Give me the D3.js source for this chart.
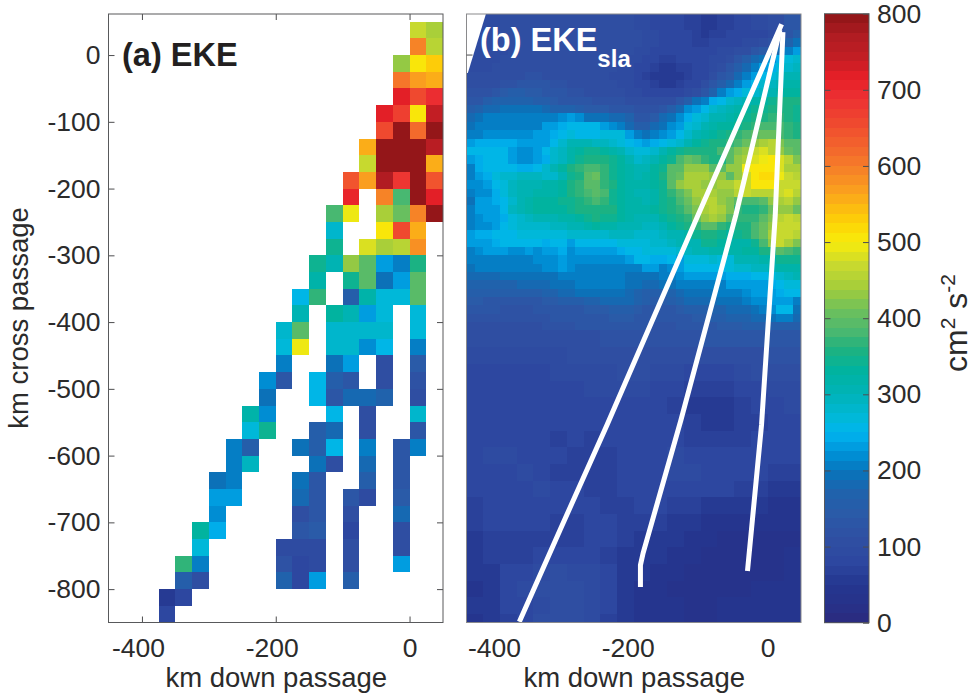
<!DOCTYPE html>
<html lang="en">
<head>
<meta charset="UTF-8">
<title>EKE</title>
<script src="https://cdn.jsdelivr.net/npm/d3@7"></script>
<style>
  body { margin: 0; background: #fff; }
  svg { display: block; }
  text { font-family: "Liberation Sans", Arial, sans-serif; fill: #2b2b2b; }
  .tick text { font-size: 26.5px; }
  .domain { display: none; }
  .tick line { stroke: #4d4d4f; stroke-width: 1; }
</style>
</head>
<body>
<div id="wrap"></div>
<script>
var _ = null;

// tick labels
var xTicks = [-400, -200, 0];
var yTicks = [0, -100, -200, -300, -400, -500, -600, -700, -800];
var barTicks = [0, 100, 200, 300, 400, 500, 600, 700, 800];

// colorbar ramp
var rampValues = [0, 25, 50, 80, 110, 145, 170, 195, 215, 235, 250, 270, 300, 330, 360, 385, 410, 440, 470, 500, 525, 570, 610, 650, 690, 715, 740, 770, 800];
var rampColors = ['#2b2a7e', '#27328a', '#24368f', '#2d47a0', '#2f4fa2', '#2a5ba8', '#1f62ac', '#0b72b9', '#0088cf', '#00a2e4', '#00b5ee', '#00b8d8', '#00b3b8', '#00b3a0', '#1fb27f', '#4fb96f', '#6cc05c', '#a5cd3a', '#c8d92e', '#f8ec0c', '#fdd405', '#fa9c20', '#f4722b', '#f04e2e', '#ec2f33', '#e81f27', '#c41e24', '#b01c22', '#8c1516'];

// panel a: columns start at -375 km, 25 km wide; rows start at 50 km going down
var ekeColumns = d3.range(-375, 50, 25);
var ekeRows = d3.range(50, -850, -25);
var eke = [
  [_,_,_,_,_,_,_,_,_,_,_,_,_,_,_,470,445],
  [_,_,_,_,_,_,_,_,_,_,_,_,_,_,_,590,455],
  [_,_,_,_,_,_,_,_,_,_,_,_,_,_,425,500,525],
  [_,_,_,_,_,_,_,_,_,_,_,_,_,_,600,570,550],
  [_,_,_,_,_,_,_,_,_,_,_,_,_,_,715,650,695],
  [_,_,_,_,_,_,_,_,_,_,_,_,_,715,665,500,745],
  [_,_,_,_,_,_,_,_,_,_,_,_,_,650,800,615,800],
  [_,_,_,_,_,_,_,_,_,_,_,_,560,800,800,800,755],
  [_,_,_,_,_,_,_,_,_,_,_,_,470,800,800,800,560],
  [_,_,_,_,_,_,_,_,_,_,_,640,570,770,680,800,640],
  [_,_,_,_,_,_,_,_,_,_,_,705,_,590,375,800,715],
  [_,_,_,_,_,_,_,_,_,_,375,495,_,445,410,590,800],
  [_,_,_,_,_,_,_,_,_,_,285,_,_,500,650,550,_],
  [_,_,_,_,_,_,_,_,_,_,340,_,485,445,460,575,_],
  [_,_,_,_,_,_,_,_,_,345,310,435,395,225,200,360,_],
  [_,_,_,_,_,_,_,_,_,320,_,345,395,190,235,395,_],
  [_,_,_,_,_,_,_,_,255,365,_,150,315,265,265,395,_],
  [_,_,_,_,_,_,_,_,305,_,335,310,235,265,_,265,_],
  [_,_,_,_,_,_,_,275,395,_,275,275,275,285,_,265,_],
  [_,_,_,_,_,_,_,265,495,_,275,280,220,260,_,205,_],
  [_,_,_,_,_,_,_,205,_,_,195,235,_,110,_,145,_],
  [_,_,_,_,_,_,215,125,_,260,155,125,_,105,_,115,_],
  [_,_,_,_,_,_,195,_,_,250,130,180,180,165,_,100,_],
  [_,_,_,_,_,320,215,_,_,_,255,_,100,_,_,280,_],
  [_,_,_,_,_,265,345,_,_,150,180,_,100,_,_,135,_],
  [_,_,_,_,208,150,_,_,195,160,260,_,210,_,130,208,_],
  [_,_,_,_,205,295,_,_,_,190,100,_,185,_,125,_,_],
  [_,_,_,197,205,_,_,_,195,130,_,_,150,_,125,_,_],
  [_,_,_,235,225,_,_,_,185,130,_,130,95,_,145,_,_],
  [_,_,_,222,_,_,_,_,110,130,_,100,_,_,180,_,_],
  [_,_,325,240,_,_,_,_,125,145,_,85,_,_,105,_,_],
  [_,_,270,_,_,_,_,95,95,90,_,100,_,_,105,_,_],
  [_,370,210,_,_,_,_,115,80,90,_,105,_,_,225,_,_],
  [_,150,100,_,_,_,_,165,80,225,_,155,_,_,_,_,_],
  [60,80,_,_,_,_,_,_,_,_,_,_,_,_,_,_,_],
  [85,_,_,_,_,_,_,_,_,_,_,_,_,_,_,_,_]
];

// panel b: 25 km cells above and below, 12.5 km cells through the band
var slaColumnsCoarse = d3.range(-450, 50, 25);
var slaColumnsFine = d3.range(-450, 50, 12.5);
var slaTop = [
  [95,95,100,100,105,100,100,100,105,105,95,85,80,65,55,65,80,90,100,130]
];
var slaBand = [
  [95,95,90,95,100,100,100,105,105,105,100,100,100,100,100,100,100,105,110,110,105,95,90,85,85,80,75,65,60,65,70,75,75,80,85,85,95,110,125,150],
  [95,90,90,95,100,100,100,105,105,105,105,100,100,100,100,100,105,105,110,105,100,95,90,85,85,80,75,70,70,75,80,80,85,90,95,100,120,140,165,190],
  [90,90,90,95,95,100,100,105,105,105,105,100,100,100,105,105,105,110,105,100,95,90,85,80,80,80,80,80,80,85,90,90,100,110,125,140,160,185,205,225],
  [90,90,95,95,100,100,105,105,105,105,100,100,100,105,110,110,110,105,100,95,90,85,75,70,70,75,80,80,85,90,95,105,125,150,175,190,215,240,265,280],
  [95,95,95,100,100,105,105,105,105,105,105,105,105,110,110,105,100,100,95,90,85,75,65,60,60,65,70,80,85,90,105,125,150,180,205,225,245,265,280,295],
  [100,100,100,105,105,105,110,115,115,110,110,110,110,110,105,100,100,95,95,90,80,70,60,55,55,60,70,80,85,100,125,145,175,205,230,250,265,285,300,310],
  [105,105,105,110,115,120,125,130,130,125,120,115,110,110,105,100,100,100,95,90,85,75,65,60,60,65,75,85,100,125,150,180,210,235,255,275,290,305,315,320],
  [115,115,120,130,140,150,150,145,140,130,130,125,120,115,110,110,105,105,100,95,90,85,80,80,85,85,95,110,135,165,200,225,245,265,280,295,310,320,330,335],
  [135,135,150,165,170,170,165,170,160,150,145,135,130,130,125,120,120,115,115,110,105,100,100,100,110,125,150,190,210,240,260,275,290,305,320,330,340,350,350,350],
  [160,165,175,185,190,195,190,195,190,175,170,170,165,150,145,145,140,135,135,130,120,115,120,125,150,175,215,230,255,275,290,305,315,325,340,345,355,360,350,345],
  [185,190,200,210,200,205,210,200,200,205,210,220,235,215,195,195,190,180,175,165,135,135,145,175,190,215,240,270,285,300,310,320,330,345,355,360,365,365,355,345],
  [195,205,210,200,200,210,210,205,210,225,235,240,250,255,255,255,225,215,205,185,155,160,180,195,215,235,265,285,300,315,325,335,345,360,370,380,385,380,365,350],
  [205,210,215,215,215,215,220,220,225,235,245,255,265,260,255,260,265,270,265,235,205,195,205,215,235,255,280,305,320,330,340,350,365,380,395,405,400,385,370,355],
  [235,240,245,245,245,240,225,225,225,235,255,280,300,305,300,295,290,280,270,255,240,235,245,260,270,285,305,325,340,350,360,370,385,400,430,445,450,420,395,390],
  [250,255,255,255,255,225,220,220,235,260,280,290,320,335,340,340,335,320,305,285,270,265,280,300,325,345,350,350,350,360,375,395,415,430,465,475,460,430,400,395],
  [225,240,250,250,250,225,220,215,225,240,280,290,320,340,355,360,360,345,325,300,285,290,310,325,345,385,400,390,370,355,350,395,435,440,485,495,500,480,450,420],
  [205,245,250,250,250,250,245,240,250,285,300,325,355,370,380,385,370,345,330,315,310,310,325,345,395,395,430,430,430,395,395,430,435,490,500,505,505,475,445,445],
  [200,225,240,265,280,285,290,290,290,285,285,310,340,360,395,400,370,345,335,320,310,315,335,350,395,400,440,440,440,430,430,395,430,465,500,515,515,490,465,455],
  [215,215,235,255,270,290,300,305,310,315,320,325,350,365,395,395,370,350,335,320,315,315,325,345,395,425,440,445,435,430,440,440,470,470,510,510,505,470,470,470],
  [205,220,220,245,270,290,305,310,315,320,320,335,350,365,380,395,375,345,330,320,310,310,320,340,370,395,420,440,445,440,430,430,455,470,460,450,450,470,475,450],
  [195,225,225,245,260,285,310,320,325,330,335,340,345,355,370,375,370,345,330,320,315,310,315,340,360,385,400,430,450,455,435,420,395,385,375,395,430,445,450,430],
  [205,225,225,235,250,290,300,315,325,325,325,335,340,350,360,360,360,350,335,320,315,315,325,345,360,370,395,420,445,450,440,420,370,360,360,365,400,430,430,410],
  [200,220,225,235,245,265,280,295,305,310,310,315,320,330,340,350,345,345,330,320,310,310,310,325,345,360,370,400,430,440,430,395,370,365,370,395,420,455,465,450],
  [210,220,220,230,250,270,275,280,285,285,290,295,300,310,320,325,320,315,310,310,300,295,295,305,325,345,360,370,395,395,370,360,355,355,375,410,430,470,470,465],
  [235,240,245,250,255,255,265,270,270,270,270,270,275,280,285,285,285,295,295,295,280,280,285,295,305,310,320,345,350,355,345,335,340,350,375,400,440,470,470,460],
  [230,235,235,240,250,255,255,255,255,240,250,250,235,255,260,260,260,260,265,270,270,270,275,285,290,310,310,310,345,345,325,320,320,320,340,375,430,465,445,420],
  [205,220,225,235,235,220,220,235,220,235,225,240,220,235,235,225,225,230,245,255,260,270,270,265,270,280,295,300,310,320,320,320,320,325,335,350,360,390,385,370],
  [205,205,205,205,210,210,210,210,215,220,220,225,220,215,215,215,215,215,220,235,255,255,240,240,250,225,265,270,270,275,270,270,300,305,310,315,320,340,340,340],
  [195,200,205,205,205,205,205,205,210,215,220,225,220,210,210,210,210,210,205,210,205,225,225,210,215,235,250,250,250,255,260,265,280,285,290,295,305,320,320,320],
  [180,180,180,185,190,190,190,190,190,195,195,200,205,205,205,205,205,205,205,195,195,190,195,210,210,215,225,225,225,225,235,240,240,245,255,255,265,285,295,305],
  [170,170,170,170,170,170,175,175,175,185,190,195,195,200,205,205,205,205,205,190,190,175,180,190,195,200,205,210,210,200,200,230,235,235,235,235,240,255,265,270],
  [160,160,155,150,150,150,150,155,160,165,170,175,185,190,195,195,190,190,190,180,170,155,155,160,170,180,190,195,195,195,200,210,210,215,225,225,235,240,250,250],
  [140,140,135,135,135,130,130,135,135,140,145,150,155,160,165,170,175,175,180,175,165,150,145,145,155,165,175,180,185,185,190,195,195,205,215,220,225,230,230,205],
  [125,125,125,125,120,120,120,120,125,130,130,130,135,135,140,145,145,150,155,155,145,135,130,130,135,140,150,155,160,165,170,175,180,185,195,205,215,255,255,195],
  [115,115,115,115,115,115,115,115,120,120,125,125,125,130,130,130,135,140,145,145,135,130,125,125,130,130,135,140,145,150,155,165,170,170,175,180,195,205,205,175],
  [110,110,110,110,110,110,110,110,110,115,115,120,120,125,125,125,125,130,130,130,125,125,120,120,120,125,125,130,130,135,140,145,145,150,155,155,160,160,160,150]
];
var slaBottom = [
  [100,100,100,100,100,105,105,110,115,120,120,115,115,120,125,125,135,135,130,125],
  [90,90,90,90,95,95,100,105,105,110,110,105,105,105,105,110,110,110,115,115],
  [85,85,85,85,85,90,90,95,95,100,100,95,90,85,85,85,90,100,105,105],
  [80,80,80,85,85,85,85,90,90,90,90,85,75,70,65,70,75,85,90,95],
  [80,80,80,85,85,85,85,85,85,85,85,80,70,60,55,60,65,75,85,90],
  [80,80,80,85,85,80,80,80,80,85,85,80,75,65,60,60,65,70,80,85],
  [85,85,80,85,75,70,75,70,75,80,85,80,75,70,65,70,70,75,80,80],
  [85,90,90,85,75,75,70,70,70,75,85,85,90,85,80,80,80,85,80,75],
  [80,85,85,90,85,70,70,70,70,80,85,85,95,90,85,85,85,80,70,70],
  [75,80,85,85,90,75,80,70,70,75,80,85,85,75,80,75,70,65,60,55],
  [70,75,85,85,85,75,80,80,70,70,75,80,70,65,60,55,50,50,45,45],
  [65,75,75,80,80,70,70,75,75,70,70,65,60,50,45,40,45,45,40,40],
  [60,65,70,70,70,65,65,75,75,70,60,55,50,45,40,35,35,35,35,35],
  [55,65,65,70,75,85,80,80,70,60,50,50,45,40,35,35,35,35,35,40],
  [50,60,75,80,90,100,95,90,75,55,50,45,40,35,30,30,35,35,35,40],
  [45,60,75,90,100,105,100,90,80,60,45,40,35,35,30,35,35,40,40,40],
  [50,60,75,85,95,105,100,90,75,55,45,40,40,35,35,40,45,45,40,40],
  [45,55,70,85,100,110,105,90,70,55,45,40,40,35,35,40,45,45,40,40]
];

// no data wedge in the corner of panel b, [km down, km cross]
var slaMissing = [[-450, 61.5], [-421, 61.5], [-448, -27], [-450, -27]];

// the three sections drawn on panel b, [km down, km cross]
var section1 = [[21, 46], [-104, -240], [-240, -554], [-310, -711], [-371, -849]];
var section2 = [[18.5, 37.5], [-47.5, -240], [-129.5, -547], [-186, -746], [-190, -764], [-190, -797]];
var section3 = [[23, 34.5], [11.5, -240], [-9, -554], [-30, -773]];

var WIDTH = 973, HEIGHT = 695, TOP = 14, BOTTOM = 622.5;

var svg = d3.select('#wrap').append('svg').attr('width', WIDTH).attr('height', HEIGHT);

var ramp = d3.scaleLinear().domain(rampValues).range(rampColors).clamp(true);
var color = d3.scaleQuantize().domain([0, 800]).range(d3.range(64).map(function(i) {
  return ramp((i + 0.5) * 12.5);
}));

var y = d3.scaleLinear().domain([-850, 61.5]).range([BOTTOM, TOP]);

function cells(g, x, rows, columns, top, size) {
  var flat = [];
  rows.forEach(function(row, j) {
    row.forEach(function(v, i) {
      if (v !== null) flat.push({ x: columns[i], y: top - j * size, v: v });
    });
  });
  g.append('g').attr('shape-rendering', 'crispEdges').selectAll('rect')
    .data(flat)
    .join('rect')
    .attr('x', function(d) { return x(d.x); })
    .attr('y', function(d) { return y(d.y); })
    .attr('width', function(d) { return x(d.x + size) - x(d.x); })
    .attr('height', function(d) { return y(d.y - size) - y(d.y); })
    .attr('fill', function(d) { return color(d.v); });
}

function panel(left, right, id, showY, labelShift, frameColor) {
  var x = d3.scaleLinear().domain([-450, 50]).range([left, right]);
  var g = svg.append('g').attr('class', id);

  g.append('clipPath').attr('id', 'clip-' + id).append('rect')
    .attr('x', left).attr('y', TOP).attr('width', right - left).attr('height', BOTTOM - TOP);

  // ticks first, the cells cover them
  g.append('g').attr('transform', 'translate(0,' + BOTTOM + ')')
    .call(d3.axisBottom(x).tickValues(xTicks).tickSize(-6).tickPadding(16).tickFormat(String))
    .selectAll('text').attr('dx', function(d) { return d < 0 ? labelShift : 0; });
  g.append('g').attr('transform', 'translate(0,' + TOP + ')')
    .call(d3.axisTop(x).tickValues(xTicks).tickSize(-6).tickFormat(''));
  g.append('g').attr('transform', 'translate(' + left + ',0)')
    .call(d3.axisLeft(y).tickValues(yTicks).tickSize(-6).tickPadding(8).tickFormat(showY ? String : ''));
  g.append('g').attr('transform', 'translate(' + right + ',0)')
    .call(d3.axisRight(y).tickValues(yTicks).tickSize(-6).tickFormat(''));

  var body = g.append('g').attr('clip-path', 'url(#clip-' + id + ')');

  g.append('rect').attr('class', 'frame')
    .attr('x', left).attr('y', TOP).attr('width', right - left).attr('height', BOTTOM - TOP)
    .attr('fill', 'none').attr('stroke', frameColor).attr('stroke-width', 1);

  g.append('text')
    .attr('x', (left + right) / 2 + 0.5).attr('y', 687)
    .attr('text-anchor', 'middle').style('font-size', '27.5px')
    .text('km down passage');

  return { x: x, g: g, body: body };
}

// panel a
var a = panel(108.5, 443, 'a', true, -4, '#58595b');
cells(a.body, a.x, eke, ekeColumns, ekeRows[0], 25);

a.g.append('text')
  .attr('transform', 'translate(28,318) rotate(-90)')
  .attr('text-anchor', 'middle').style('font-size', '27.5px')
  .text('km cross passage');

a.g.append('text').attr('x', 122).attr('y', 66)
  .style('font-size', '32.5px').style('font-weight', 'bold').style('fill', '#231f20')
  .text('(a) EKE');

// panel b
var b = panel(466.5, 801, 'b', false, -6, '#8a8a8c');
cells(b.body, b.x, slaTop, slaColumnsCoarse, 62.5, 25);
cells(b.body, b.x, slaBand, slaColumnsFine, 37.5, 12.5);
cells(b.body, b.x, slaBottom, slaColumnsCoarse, -412.5, 25);

var line = d3.line()
  .x(function(d) { return b.x(d[0]); })
  .y(function(d) { return y(d[1]); });

// white wedge sits over the grid, with its one tick put back
b.body.append('path')
  .attr('d', line(slaMissing) + 'Z')
  .attr('fill', '#fff');
b.g.append('line')
  .attr('x1', 466.5).attr('x2', 472.5)
  .attr('y1', y(0)).attr('y2', y(0))
  .attr('stroke', '#4d4d4f');

[section1, section2, section3].forEach(function(s) {
  b.body.append('path')
    .attr('d', line(s))
    .attr('fill', 'none')
    .attr('stroke', '#fff')
    .attr('stroke-width', 5);
});

var title = b.g.append('text').attr('x', 480).attr('y', 51)
  .style('font-size', '32.5px').style('font-weight', 'bold').style('fill', '#fff');
title.append('tspan').style('fill', '#fff').text('(b) EKE');
title.append('tspan').style('fill', '#fff').style('font-size', '24px')
  .attr('dy', 16).text('sla');

// colorbar
var barY = d3.scaleLinear().domain([0, 800]).range([622.7, 13.7]);
var bar = svg.append('g').attr('class', 'colorbar');
var BARLEFT = 824.5, BARRIGHT = 869;

bar.append('g').attr('shape-rendering', 'crispEdges').selectAll('rect')
  .data(color.range())
  .join('rect')
  .attr('x', BARLEFT)
  .attr('width', BARRIGHT - BARLEFT)
  .attr('y', function(d, i) { return barY((i + 1) * 12.5); })
  .attr('height', function(d, i) { return barY(i * 12.5) - barY((i + 1) * 12.5); })
  .attr('fill', function(d) { return d; });

bar.append('g').attr('transform', 'translate(' + BARRIGHT + ',0)')
  .call(d3.axisRight(barY).tickValues(barTicks).tickSize(-6).tickPadding(8).tickFormat(String));
bar.append('g').attr('transform', 'translate(' + BARLEFT + ',0)')
  .call(d3.axisLeft(barY).tickValues(barTicks.slice(1, -1)).tickSize(-6).tickFormat(''));

bar.append('rect')
  .attr('x', BARLEFT).attr('y', 13.7)
  .attr('width', BARRIGHT - BARLEFT).attr('height', 609)
  .attr('fill', 'none').attr('stroke', '#58595b');

var barLabel = bar.append('text')
  .attr('transform', 'translate(967,372) rotate(-90)')
  .style('font-size', '32px');
barLabel.append('tspan').text('cm');
barLabel.append('tspan').style('font-size', '21px').attr('dy', -12).text('2');
barLabel.append('tspan').attr('dy', 12).text(' s');
barLabel.append('tspan').style('font-size', '21px').attr('dy', -12).text('-2');
</script>
</body>
</html>
